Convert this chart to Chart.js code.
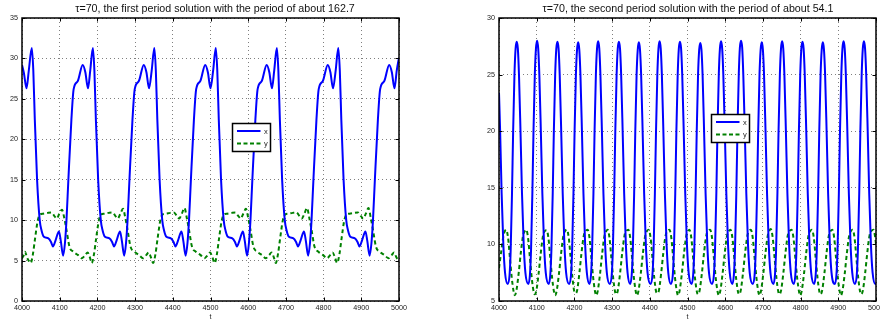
<!DOCTYPE html>
<html>
<head>
<meta charset="utf-8">
<script src="https://cdn.jsdelivr.net/npm/chart.js@4/dist/chart.umd.min.js"></script>
<style>
  html, body { margin: 0; padding: 0; background: #fff; }
  #wrap { position: relative; width: 880px; height: 326px; overflow: hidden; font-family: "Liberation Sans", Arial, Helvetica, sans-serif; }
  canvas { position: absolute; top: 0; }
  .title { position: absolute; top: 2px; font-size: 10.7px; line-height: 12px; color: #111; white-space: nowrap; transform: translateX(-50%); }
  svg.leg { position: absolute; left: 0; top: 0; }
</style>
</head>
<body>
<div id="wrap">
  <canvas id="c1" width="440" height="326" style="left:0"></canvas>
  <canvas id="c2" width="440" height="326" style="left:440px"></canvas>
  <div class="title" id="t1" style="left:215px"></div>
  <div class="title" id="t2" style="left:688px"></div>
  <svg class="leg" width="880" height="326" id="legsvg"></svg>
</div>
<script>
// ---------------- data (t, value) ----------------
const titles = [
  "\u03c4=70, the first period solution with the period of about 162.7",
  "\u03c4=70, the second period solution with the period of about 54.1"
];
const seriesNames = ["x", "y"];
const xAxisLabel = "t";
const tRange = [4000, 5000];
const tStep = 100;
const leftYRange = [0, 35];
const rightYRange = [5, 30];
const yStep = 5;

// Left panel, x (solid blue)
const leftX = [
 [4000,29.2],[4005,28.2],[4012,26.3],[4018,28.5],
 [4026,31.3],[4030,28.5],[4034,22.4],[4040,15],[4047,10],[4052,8.7],[4058,7.95],[4070,7.75],[4077,7.3],[4082,6.75],[4089,7.5],[4098,8.6],[4103,7.4],[4109,5.6],[4114,7.2],[4118,10],[4123,15],[4131,22.4],[4137,26.2],[4148,27.2],[4161,29.2],[4168,28.3],[4175,26.3],[4181,28.5],
 [4188,31.3],[4192,28.5],[4196,22.4],[4202,15],[4209,10],[4214,8.7],[4220,7.95],[4232,7.75],[4239,7.3],[4244,6.75],[4251,7.5],[4260,8.6],[4265,7.4],[4271,5.6],[4276,7.2],[4280,10],[4285,15],[4293,22.4],[4299,26.2],[4310,27.2],[4323,29.2],[4330,28.3],[4337,26.3],[4344,28.5],
 [4351,31.3],[4355,28.5],[4359,22.4],[4365,15],[4372,10],[4377,8.7],[4383,7.95],[4395,7.75],[4402,7.3],[4407,6.75],[4414,7.5],[4423,8.6],[4428,7.4],[4434,5.6],[4439,7.2],[4443,10],[4448,15],[4456,22.4],[4462,26.2],[4473,27.2],[4486,29.2],[4493,28.3],[4500,26.3],[4507,28.5],
 [4514,31.3],[4518,28.5],[4522,22.4],[4528,15],[4535,10],[4540,8.7],[4546,7.95],[4558,7.75],[4565,7.3],[4570,6.75],[4577,7.5],[4586,8.6],[4591,7.4],[4597,5.6],[4602,7.2],[4606,10],[4611,15],[4619,22.4],[4625,26.2],[4636,27.2],[4649,29.2],[4656,28.3],[4663,26.3],[4669,28.5],
 [4676,31.3],[4680,28.5],[4684,22.4],[4690,15],[4697,10],[4702,8.7],[4708,7.95],[4720,7.75],[4727,7.3],[4732,6.75],[4739,7.5],[4748,8.6],[4753,7.4],[4759,5.6],[4764,7.2],[4768,10],[4773,15],[4781,22.4],[4787,26.2],[4798,27.2],[4811,29.2],[4818,28.3],[4825,26.3],[4832,28.5],
 [4839,31.3],[4843,28.5],[4847,22.4],[4853,15],[4860,10],[4865,8.7],[4871,7.95],[4883,7.75],[4890,7.3],[4895,6.75],[4902,7.5],[4911,8.6],[4916,7.4],[4922,5.6],[4927,7.2],[4931,10],[4936,15],[4944,22.4],[4950,26.2],[4961,27.2],[4974,29.2],[4981,28.3],[4988,26.3],[4994,28.5],[5000,30.1]
];

// Left panel, y (dashed green)
const leftY = [
 [4000,5.3],[4004,5.6],[4008,6.1],[4013,5.4],[4019,4.9],[4023,4.7],
 [4029,5.8],[4034,7.5],[4042,10],[4048,10.7],[4056,10.8],[4068,10.9],[4078,10.95],[4086,10.5],[4092,10.2],[4099,10.8],[4106,11.3],[4112,10.3],[4118,8.8],[4126,6.7],[4136,6.1],[4148,5.7],[4159,5.3],[4168,5.7],[4174,6.0],[4180,5.4],[4185,4.7],
 [4191,5.8],[4196,7.5],[4204,10],[4210,10.7],[4218,10.8],[4230,10.9],[4240,10.95],[4248,10.5],[4254,10.2],[4261,10.8],[4268,11.4],[4274,10.3],[4280,8.8],[4288,6.7],[4298,6.1],[4310,5.7],[4321,5.3],[4330,5.7],[4336,6.0],[4342,5.4],[4348,4.7],
 [4354,5.8],[4359,7.5],[4367,10],[4373,10.7],[4381,10.8],[4393,10.9],[4403,10.95],[4411,10.5],[4417,10.2],[4424,10.8],[4431,11.5],[4437,10.3],[4443,8.8],[4451,6.7],[4461,6.1],[4473,5.7],[4484,5.3],[4493,5.7],[4499,6.0],[4505,5.4],[4511,4.7],
 [4517,5.8],[4522,7.5],[4530,10],[4536,10.7],[4544,10.8],[4556,10.9],[4566,10.95],[4574,10.5],[4580,10.2],[4587,10.8],[4594,11.4],[4600,10.3],[4606,8.8],[4614,6.7],[4624,6.1],[4636,5.7],[4647,5.3],[4656,5.7],[4662,6.0],[4668,5.4],[4673,4.7],
 [4679,5.8],[4684,7.5],[4692,10],[4698,10.7],[4706,10.8],[4718,10.9],[4728,10.95],[4736,10.5],[4742,10.2],[4749,10.8],[4756,11.5],[4762,10.3],[4768,8.8],[4776,6.7],[4786,6.1],[4798,5.7],[4809,5.3],[4818,5.7],[4824,6.0],[4830,5.4],[4836,4.7],
 [4842,5.8],[4847,7.5],[4855,10],[4861,10.7],[4869,10.8],[4881,10.9],[4891,10.95],[4899,10.5],[4905,10.2],[4912,10.8],[4919,11.5],[4925,10.3],[4931,8.8],[4939,6.7],[4949,6.1],[4961,5.7],[4972,5.3],[4981,5.7],[4987,6.0],[4993,5.4],[5000,4.9]
];

// Right panel, x (solid blue)
const rightX = [
 [4000,23.4],[4003,20],[4007,14.5],[4011.5,10],[4016,7.5],[4023,6.5],
 [4028,7.3],[4031,9.5],[4034.5,14.5],[4037.5,20],[4041,25],[4044,27.3],[4047,27.9],[4050,27.3],[4053,25],[4057,20],[4061,14.5],[4065.5,10],[4070,7.5],[4078,6.5],
 [4082,7.3],[4085,9.5],[4088.5,14.5],[4091.5,20],[4095,25],[4098,27.3],[4101,28.0],[4104,27.3],[4107,25],[4111,20],[4115,14.5],[4119.5,10],[4124,7.5],[4132,6.5],
 [4136,7.3],[4139,9.5],[4142.5,14.5],[4145.5,20],[4149,25],[4152,27.3],[4155,27.9],[4158,27.3],[4161,25],[4165,20],[4169,14.5],[4173.5,10],[4178,7.5],[4186,6.5],
 [4191,7.3],[4194,9.5],[4197.5,14.5],[4200.5,20],[4204,25],[4207,27.2],[4210,27.85],[4213,27.2],[4216,25],[4220,20],[4224,14.5],[4228.5,10],[4233,7.5],[4240,6.5],
 [4244,7.3],[4247,9.5],[4250.5,14.5],[4253.5,20],[4257,25],[4260,27.3],[4263,27.95],[4266,27.3],[4269,25],[4273,20],[4277,14.5],[4281.5,10],[4286,7.5],[4294,6.5],
 [4299,7.3],[4302,9.5],[4305.5,14.5],[4308.5,20],[4312,25],[4315,27.3],[4318,27.9],[4321,27.3],[4324,25],[4328,20],[4332,14.5],[4336.5,10],[4341,7.5],[4348,6.5],
 [4352,7.3],[4355,9.5],[4358.5,14.5],[4361.5,20],[4365,25],[4368,27.2],[4371,27.85],[4374,27.2],[4377,25],[4381,20],[4385,14.5],[4389.5,10],[4394,7.5],[4402,6.5],
 [4407,7.3],[4410,9.5],[4413.5,14.5],[4416.5,20],[4420,25],[4423,27.3],[4426,27.95],[4429,27.3],[4432,25],[4436,20],[4440,14.5],[4444.5,10],[4449,7.5],[4456,6.5],
 [4461,7.3],[4464,9.5],[4467.5,14.5],[4470.5,20],[4474,25],[4477,27.3],[4480,27.9],[4483,27.3],[4486,25],[4490,20],[4494,14.5],[4498.5,10],[4503,7.5],[4511,6.5],
 [4515,7.3],[4518,9.5],[4521.5,14.5],[4524.5,20],[4528,25],[4531,27.2],[4534,27.8],[4537,27.2],[4540,25],[4544,20],[4548,14.5],[4552.5,10],[4557,7.5],[4565,6.5],
 [4570,7.3],[4573,9.5],[4576.5,14.5],[4579.5,20],[4583,25],[4586,27.3],[4589,27.95],[4592,27.3],[4595,25],[4599,20],[4603,14.5],[4607.5,10],[4612,7.5],[4619,6.5],
 [4623,7.3],[4626,9.5],[4629.5,14.5],[4632.5,20],[4636,25],[4639,27.4],[4642,28.0],[4645,27.4],[4648,25],[4652,20],[4656,14.5],[4660.5,10],[4665,7.5],[4673,6.5],
 [4678,7.3],[4681,9.5],[4684.5,14.5],[4687.5,20],[4691,25],[4694,27.2],[4697,27.85],[4700,27.2],[4703,25],[4707,20],[4711,14.5],[4715.5,10],[4720,7.5],[4728,6.5],
 [4732,7.3],[4735,9.5],[4738.5,14.5],[4741.5,20],[4745,25],[4748,27.3],[4751,27.95],[4754,27.3],[4757,25],[4761,20],[4765,14.5],[4769.5,10],[4774,7.5],[4782,6.5],
 [4786,7.3],[4789,9.5],[4792.5,14.5],[4795.5,20],[4799,25],[4802,27.3],[4805,27.9],[4808,27.3],[4811,25],[4815,20],[4819,14.5],[4823.5,10],[4828,7.5],[4836,6.5],
 [4840,7.3],[4843,9.5],[4846.5,14.5],[4849.5,20],[4853,25],[4856,27.2],[4859,27.85],[4862,27.2],[4865,25],[4869,20],[4873,14.5],[4877.5,10],[4882,7.5],[4891,6.5],
 [4895,7.3],[4898,9.5],[4901.5,14.5],[4904.5,20],[4908,25],[4911,27.3],[4914,27.95],[4917,27.3],[4920,25],[4924,20],[4928,14.5],[4932.5,10],[4937,7.5],[4944,6.5],
 [4949,7.3],[4952,9.5],[4955.5,14.5],[4958.5,20],[4962,25],[4965,27.3],[4968,27.95],[4971,27.3],[4974,25],[4978,20],[4982,14.5],[4986.5,10],[4991,7.5],[4998,6.5],[5000,6.6]
];

// Right panel, y (dashed green)
const rightY = [
 [4000,7.9],[4006,9.4],[4012,10.8],[4016,11.2],[4019,11.3],
 [4024,10.6],[4029,8.8],[4034,7],[4039,5.8],[4042,5.5],[4046,5.9],[4052,7.4],[4058,9.3],[4064,10.8],[4069,11.2],[4072,11.3],
 [4077,10.6],[4082,8.8],[4087,7],[4092,5.8],[4095,5.6],[4099,5.9],[4105,7.4],[4111,9.3],[4117,10.8],[4122,11.2],[4126,11.25],
 [4131,10.6],[4136,8.8],[4141,7],[4146,5.8],[4149,5.5],[4153,5.9],[4159,7.4],[4165,9.3],[4171,10.8],[4176,11.2],[4180,11.3],
 [4185,10.6],[4190,8.8],[4195,7],[4200,5.8],[4203,5.7],[4207,5.9],[4213,7.4],[4219,9.3],[4225,10.8],[4230,11.2],[4235,11.3],
 [4240,10.6],[4245,8.8],[4250,7],[4255,5.8],[4258,5.5],[4262,5.9],[4268,7.4],[4274,9.3],[4280,10.8],[4285,11.2],[4288,11.3],
 [4293,10.6],[4298,8.8],[4303,7],[4308,5.8],[4311,5.6],[4315,5.9],[4321,7.4],[4327,9.3],[4333,10.8],[4338,11.2],[4343,11.3],
 [4348,10.6],[4353,8.8],[4358,7],[4363,5.8],[4366,5.5],[4370,5.9],[4376,7.4],[4382,9.3],[4388,10.8],[4393,11.2],[4397,11.3],
 [4402,10.6],[4407,8.8],[4412,7],[4417,5.8],[4420,5.7],[4424,5.9],[4430,7.4],[4436,9.3],[4442,10.8],[4447,11.2],[4452,11.3],
 [4457,10.6],[4462,8.8],[4467,7],[4472,5.8],[4475,5.5],[4479,5.9],[4485,7.4],[4491,9.3],[4497,10.8],[4502,11.2],[4505,11.3],
 [4510,10.6],[4515,8.8],[4520,7],[4525,5.8],[4528,5.6],[4532,5.9],[4538,7.4],[4544,9.3],[4550,10.8],[4555,11.2],[4560,11.3],
 [4565,10.6],[4570,8.8],[4575,7],[4580,5.8],[4583,5.5],[4587,5.9],[4593,7.4],[4599,9.3],[4605,10.8],[4610,11.2],[4614,11.3],
 [4619,10.6],[4624,8.8],[4629,7],[4634,5.8],[4637,5.6],[4641,5.9],[4647,7.4],[4653,9.3],[4659,10.8],[4664,11.2],[4668,11.3],
 [4673,10.6],[4678,8.8],[4683,7],[4688,5.8],[4691,5.5],[4695,5.9],[4701,7.4],[4707,9.3],[4713,10.8],[4717,11.2],[4721,11.35],
 [4726,10.6],[4731,8.8],[4736,7],[4741,5.8],[4744,5.6],[4748,5.9],[4754,7.4],[4760,9.3],[4766,10.8],[4771,11.2],[4776,11.3],
 [4781,10.6],[4786,8.8],[4791,7],[4796,5.8],[4799,5.5],[4803,5.9],[4809,7.4],[4815,9.3],[4821,10.8],[4826,11.2],[4830,11.3],
 [4835,10.6],[4840,8.8],[4845,7],[4850,5.8],[4853,5.6],[4857,5.9],[4863,7.4],[4869,9.3],[4875,10.8],[4880,11.2],[4884,11.3],
 [4889,10.6],[4894,8.8],[4899,7],[4904,5.8],[4907,5.5],[4911,5.9],[4917,7.4],[4923,9.3],[4929,10.8],[4934,11.2],[4938,11.3],
 [4943,10.6],[4948,8.8],[4953,7],[4958,5.8],[4961,5.6],[4965,5.9],[4971,7.4],[4977,9.3],[4983,10.8],[4988,11.2],[4993,11.3],
 [4998,10.6],[5000,10.0]
];

// ---------------- rendering ----------------
const FONT = "'Liberation Sans', Arial, Helvetica, sans-serif";
const BLUE = '#0000ff', GREEN = '#008000';

const boxPlugin = {
  id: 'matlabBox',
  afterDraw(chart) {
    const { ctx, chartArea: a, scales } = chart;
    const L = 3.5;
    ctx.save();
    ctx.strokeStyle = '#000';
    ctx.lineWidth = 1;
    ctx.beginPath();
    scales.x.ticks.forEach(t => {
      const p = Math.round(scales.x.getPixelForValue(t.value)) + 0.5;
      ctx.moveTo(p, a.bottom); ctx.lineTo(p, a.bottom - L);
      ctx.moveTo(p, a.top); ctx.lineTo(p, a.top + L);
    });
    scales.y.ticks.forEach(t => {
      const p = Math.round(scales.y.getPixelForValue(t.value)) + 0.5;
      ctx.moveTo(a.left, p); ctx.lineTo(a.left + L, p);
      ctx.moveTo(a.right, p); ctx.lineTo(a.right - L, p);
    });
    ctx.stroke();
    ctx.lineWidth = 1.5;
    ctx.strokeRect(a.left, a.top, a.right - a.left, a.bottom - a.top);
    ctx.restore();
  }
};

function toXY(arr) { return arr.map(p => ({ x: p[0], y: p[1] })); }

function makeChart(id, xs, ys, yRange, yAxisWidth, padRight) {
  return new Chart(document.getElementById(id), {
    type: 'line',
    data: {
      datasets: [
        { label: seriesNames[0], data: toXY(xs), borderColor: BLUE, borderWidth: 2,
          pointRadius: 0, cubicInterpolationMode: 'monotone', fill: false },
        { label: seriesNames[1], data: toXY(ys), borderColor: GREEN, borderWidth: 2,
          borderDash: [4, 3], pointRadius: 0, cubicInterpolationMode: 'monotone', fill: false }
      ]
    },
    options: {
      responsive: false, animation: false, devicePixelRatio: 1,
      layout: { padding: { left: 0, right: padRight, top: 18, bottom: 0 } },
      plugins: { legend: { display: false }, title: { display: false }, tooltip: { enabled: false } },
      scales: {
        x: {
          type: 'linear', min: tRange[0], max: tRange[1],
          ticks: { stepSize: tStep, padding: 3, color: '#222', font: { family: FONT, size: 7.2 }, maxRotation: 0, autoSkip: false,
                   callback: v => String(v) },
          grid: { color: 'rgba(0,0,0,0.5)', lineWidth: 1, drawTicks: false },
          border: { display: false, dash: [1, 3] },
          title: { display: true, text: xAxisLabel, color: '#222', font: { family: FONT, size: 7.2 }, padding: { top: 0, bottom: 4.5 } },
          afterFit(s) { s.height = 25; s.paddingLeft = 0; s.paddingRight = 0; }
        },
        y: {
          type: 'linear', min: yRange[0], max: yRange[1],
          ticks: { stepSize: yStep, padding: 4, color: '#222', font: { family: FONT, size: 7.2 }, callback: v => String(v) },
          grid: { color: 'rgba(0,0,0,0.5)', lineWidth: 1, drawTicks: false },
          border: { display: false, dash: [1, 3] },
          afterFit(s) { s.width = yAxisWidth; s.paddingTop = 0; s.paddingBottom = 0; }
        }
      }
    },
    plugins: [boxPlugin]
  });
}

makeChart('c1', leftX, leftY, leftYRange, 22, 41);
makeChart('c2', rightX, rightY, rightYRange, 59, 4);

document.getElementById('t1').textContent = titles[0];
document.getElementById('t2').textContent = titles[1];

// legends (drawn as SVG with real text)
function legend(svg, bx, by) {
  const ns = 'http://www.w3.org/2000/svg';
  const mk = (tag, attrs, text) => {
    const e = document.createElementNS(ns, tag);
    for (const k in attrs) e.setAttribute(k, attrs[k]);
    if (text) e.textContent = text;
    svg.appendChild(e);
  };
  mk('rect', { x: bx + 0.5, y: by + 0.5, width: 38, height: 28, fill: '#fff', stroke: '#000', 'stroke-width': 1.5 });
  mk('line', { x1: bx + 5, y1: by + 8, x2: bx + 28.5, y2: by + 8, stroke: BLUE, 'stroke-width': 2 });
  mk('text', { x: bx + 32, y: by + 10.5, 'font-family': FONT, 'font-size': 7.5, fill: '#222' }, seriesNames[0]);
  mk('line', { x1: bx + 5, y1: by + 20.5, x2: bx + 28.5, y2: by + 20.5, stroke: GREEN, 'stroke-width': 2, 'stroke-dasharray': '4 2.5' });
  mk('text', { x: bx + 32, y: by + 23, 'font-family': FONT, 'font-size': 7.5, fill: '#222' }, seriesNames[1]);
}
const svg = document.getElementById('legsvg');
legend(svg, 232, 123);
legend(svg, 711, 114);
</script>
</body>
</html>
